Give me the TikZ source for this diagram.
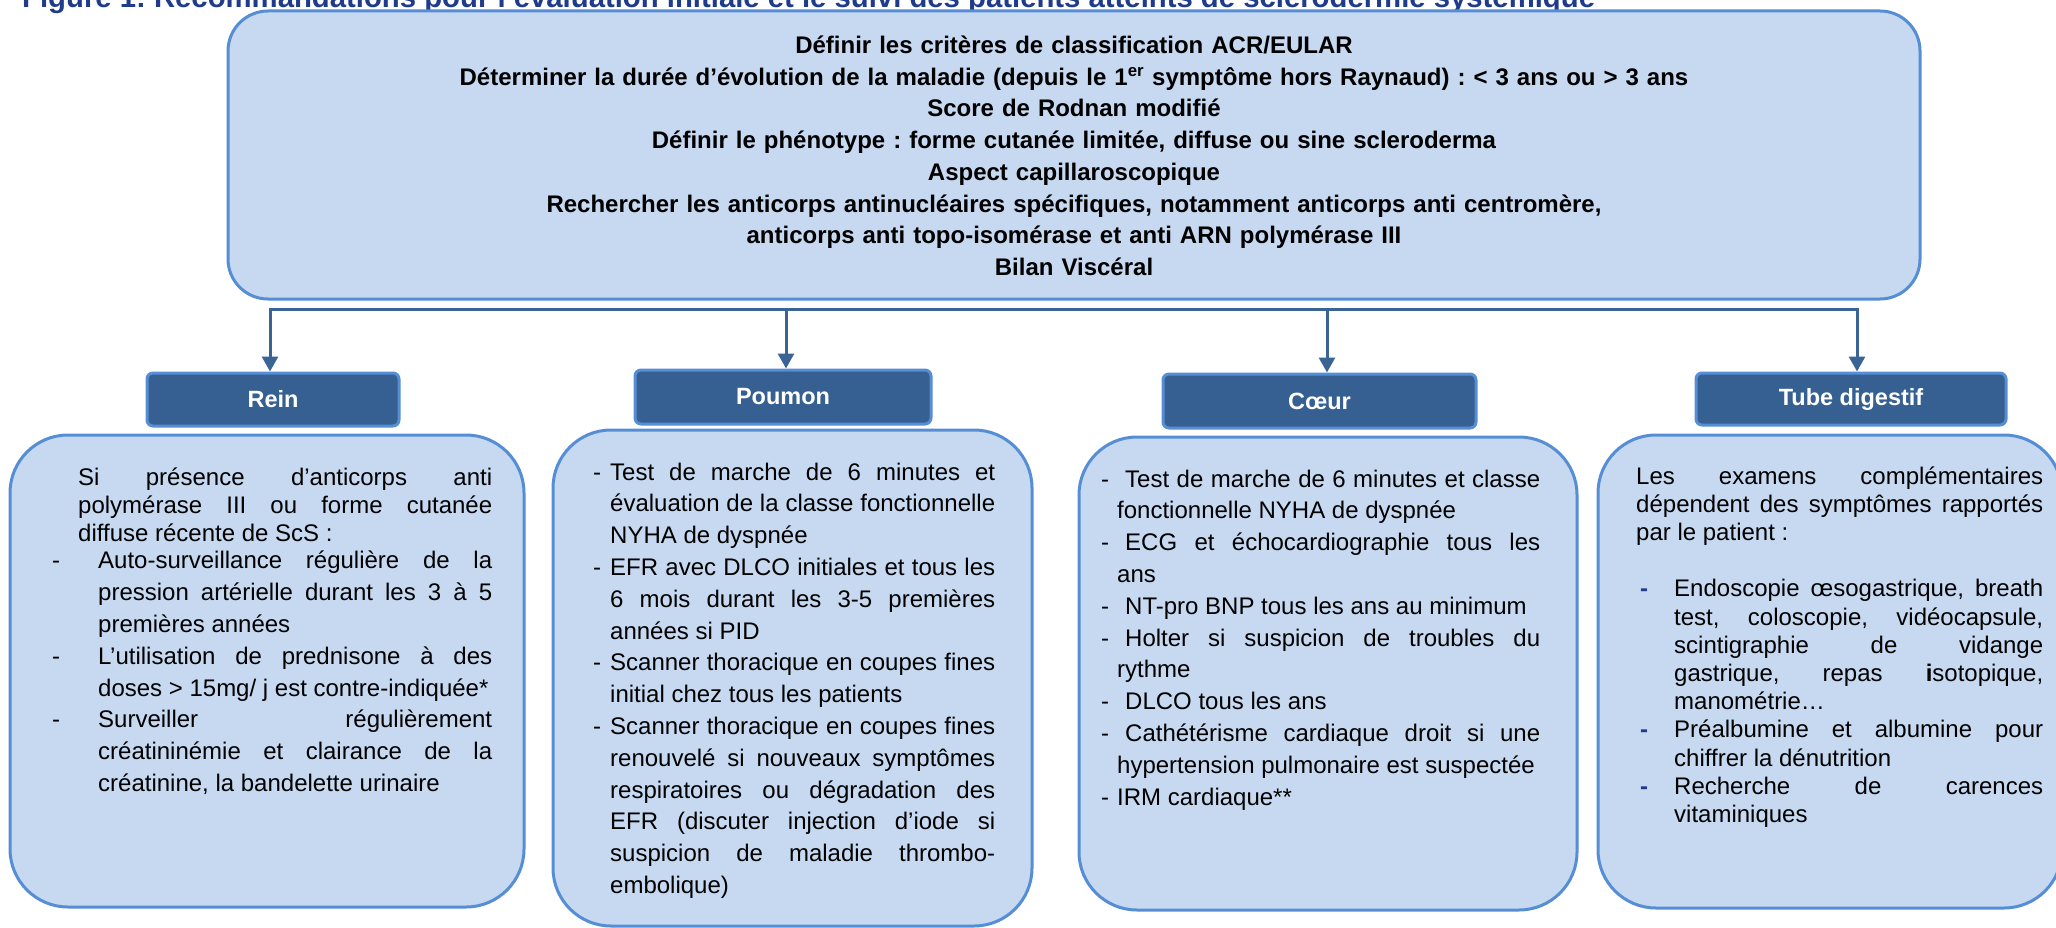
\documentclass[tikz,border=0pt]{standalone}
\usepackage{fontspec}
\setmainfont{Liberation Sans}
\usetikzlibrary{arrows.meta}
\definecolor{bodyfill}{HTML}{C6D9F1}
\definecolor{bodyline}{HTML}{558ED5}
\definecolor{headfill}{HTML}{376092}
\definecolor{headline}{HTML}{558ED5}
\definecolor{connline}{HTML}{3A6496}
\definecolor{titleblue}{HTML}{1F3C8C}
\definecolor{dashblue}{HTML}{1F3C8C}
\newcommand\ditem[4]{\hangindent=#1\hangafter=1\noindent\makebox[#2][l]{#3}#4\par}
\frenchspacing
\tolerance=10000
\hyphenpenalty=10000
\begin{document}
\begin{tikzpicture}[x=1pt,y=-1pt,
  bodybox/.style={draw=bodyline, fill=bodyfill, line width=3pt, rounded corners=#1, inner sep=0pt},
  headbox/.style={draw=headline, fill=headfill, line width=3pt, rounded corners=6pt, inner sep=0pt,
    text=white, font=\bfseries\fontsize{23.5pt}{28pt}\selectfont},
  conn/.style={draw=connline, line width=3pt},
  tipped/.style={-{Triangle[width=16pt,length=15pt]}},
  bodytext/.style={anchor=base west, inner sep=0pt, align=justify, text width=#1,
    font=\fontsize{24pt}{31.8pt}\selectfont}]
\useasboundingbox (0,0) rectangle (2056,928);
\clip (0,0) rectangle (2056,928);
\fill[white] (0,0) rectangle (2056,928);

% title (cut at the top of the page)
\node[anchor=base west, inner sep=0pt, text=titleblue, font=\bfseries\fontsize{29.3pt}{29pt}\selectfont] (title) at (22,8)
  {Figure 1: Recommandations pour l’évaluation initiale et le suivi des patients atteints de sclérodermie systémique};

% top box
\node[bodybox=40pt, minimum width=1692pt, minimum height=288pt] (top) at (1074,155) {};
\node[anchor=base, inner sep=0pt, text width=1650pt, align=center,
  font=\bfseries\fontsize{24pt}{31.75pt}\selectfont] (toptext) at (1074,53.5)
  {Définir les critères de classification ACR/EULAR\\
   Déterminer la durée d’évolution de la maladie (depuis le 1\textsuperscript{er} symptôme hors Raynaud) : < 3 ans ou > 3 ans\\
   Score de Rodnan modifié\\
   Définir le phénotype : forme cutanée limitée, diffuse ou sine scleroderma\\
   Aspect capillaroscopique\\
   Rechercher les anticorps antinucléaires spécifiques, notamment anticorps anti centromère,\\
   anticorps anti topo-isomérase et anti ARN polymérase III\\
   Bilan Viscéral};

% headers
\node[headbox, minimum width=252pt, minimum height=53pt] (reinh) at (273,399.5) {Rein};
\node[headbox, minimum width=296pt, minimum height=54pt] (poumh) at (783,397) {Poumon};
\node[headbox, minimum width=313pt, minimum height=54pt] (coeurh) at (1319.5,401) {Cœur};
\node[headbox, minimum width=310pt, minimum height=52pt] (tubeh) at (1851,399) {Tube digestif};

% connectors
\coordinate (busL) at (270,309);
\coordinate (busP) at (786,309);
\coordinate (busC) at (1327,309);
\coordinate (busR) at (1857,309);
\draw[conn, {Triangle[width=16pt,length=15pt]}-{Triangle[width=16pt,length=15pt]}]
  (busL |- reinh.north) -- (busL) -- (busR) -- (busR |- tubeh.north);
\draw[conn, tipped] (busP) -- (busP |- poumh.north);
\draw[conn, tipped] (busC) -- (busC |- coeurh.north);

% body boxes
\node[bodybox=58pt, minimum width=514pt, minimum height=472pt] (reinb) at (267,671) {};
\node[bodybox=58pt, minimum width=479pt, minimum height=496pt] (poumb) at (792.5,678) {};
\node[bodybox=58pt, minimum width=498pt, minimum height=473pt] (coeurb) at (1328,673.5) {};
\node[bodybox=58pt, minimum width=464pt, minimum height=473pt] (tubeb) at (1830,671.5) {};

% Rein text
\node[bodytext=440pt] (reint) at (52,485) {%
{\leftskip=26pt\baselineskip=28pt Si présence d’anticorps anti\linebreak polymérase III ou forme cutanée\linebreak diffuse récente de ScS :\par}
\vspace{-4pt}
\ditem{46pt}{46pt}{-}{Auto-surveillance régulière de la\linebreak pression artérielle durant les 3 à 5\linebreak premières années}
\ditem{46pt}{46pt}{-}{L’utilisation de prednisone à des\linebreak doses > 15mg/ j est contre-indiquée*}
\ditem{46pt}{46pt}{-}{Surveiller régulièrement\linebreak créatininémie et clairance de la\linebreak créatinine, la bandelette urinaire}};

% Poumon text
\node[bodytext=402pt] (poumt) at (593,480) {%
\ditem{17pt}{17pt}{-}{Test de marche de 6 minutes et\linebreak évaluation de la classe fonctionnelle\linebreak NYHA de dyspnée}
\ditem{17pt}{17pt}{-}{EFR avec DLCO initiales et tous les\linebreak 6 mois durant les 3-5 premières\linebreak années si PID}
\ditem{17pt}{17pt}{-}{Scanner thoracique en coupes fines\linebreak initial chez tous les patients}
\ditem{17pt}{17pt}{-}{Scanner thoracique en coupes fines\linebreak renouvelé si nouveaux symptômes\linebreak respiratoires ou dégradation des\linebreak EFR (discuter injection d’iode si\linebreak suspicion de maladie thrombo-\linebreak embolique)}};

% Coeur text
\node[bodytext=439pt] (coeurt) at (1101,487) {%
\ditem{16pt}{24pt}{-}{Test de marche de 6 minutes et classe\linebreak fonctionnelle NYHA de dyspnée}
\ditem{16pt}{24pt}{-}{ECG et échocardiographie tous les\linebreak ans}
\ditem{16pt}{24pt}{-}{NT-pro BNP tous les ans au minimum}
\ditem{16pt}{24pt}{-}{Holter si suspicion de troubles du\linebreak rythme}
\ditem{16pt}{24pt}{-}{DLCO tous les ans}
\ditem{16pt}{24pt}{-}{Cathétérisme cardiaque droit si une\linebreak hypertension pulmonaire est suspectée}
\ditem{16pt}{16pt}{-}{IRM cardiaque**}};

% Tube digestif text
\node[bodytext=407pt, font=\fontsize{24pt}{28.2pt}\selectfont] (tubet) at (1636,484) {%
Les examens complémentaires\linebreak dépendent des symptômes rapportés\linebreak par le patient :\par
\vspace{28.2pt}
\ditem{38pt}{38pt}{\hspace{4pt}\textcolor{dashblue}{\bfseries -}}{Endoscopie œsogastrique, breath\linebreak test, coloscopie, vidéocapsule,\linebreak scintigraphie de vidange\linebreak gastrique, repas \textbf{i}sotopique,\linebreak manométrie…}
\ditem{38pt}{38pt}{\hspace{4pt}\textcolor{dashblue}{\bfseries -}}{Préalbumine et albumine pour\linebreak chiffrer la dénutrition}
\ditem{38pt}{38pt}{\hspace{4pt}\textcolor{dashblue}{\bfseries -}}{Recherche de carences\linebreak vitaminiques}};
\end{tikzpicture}
\end{document}
